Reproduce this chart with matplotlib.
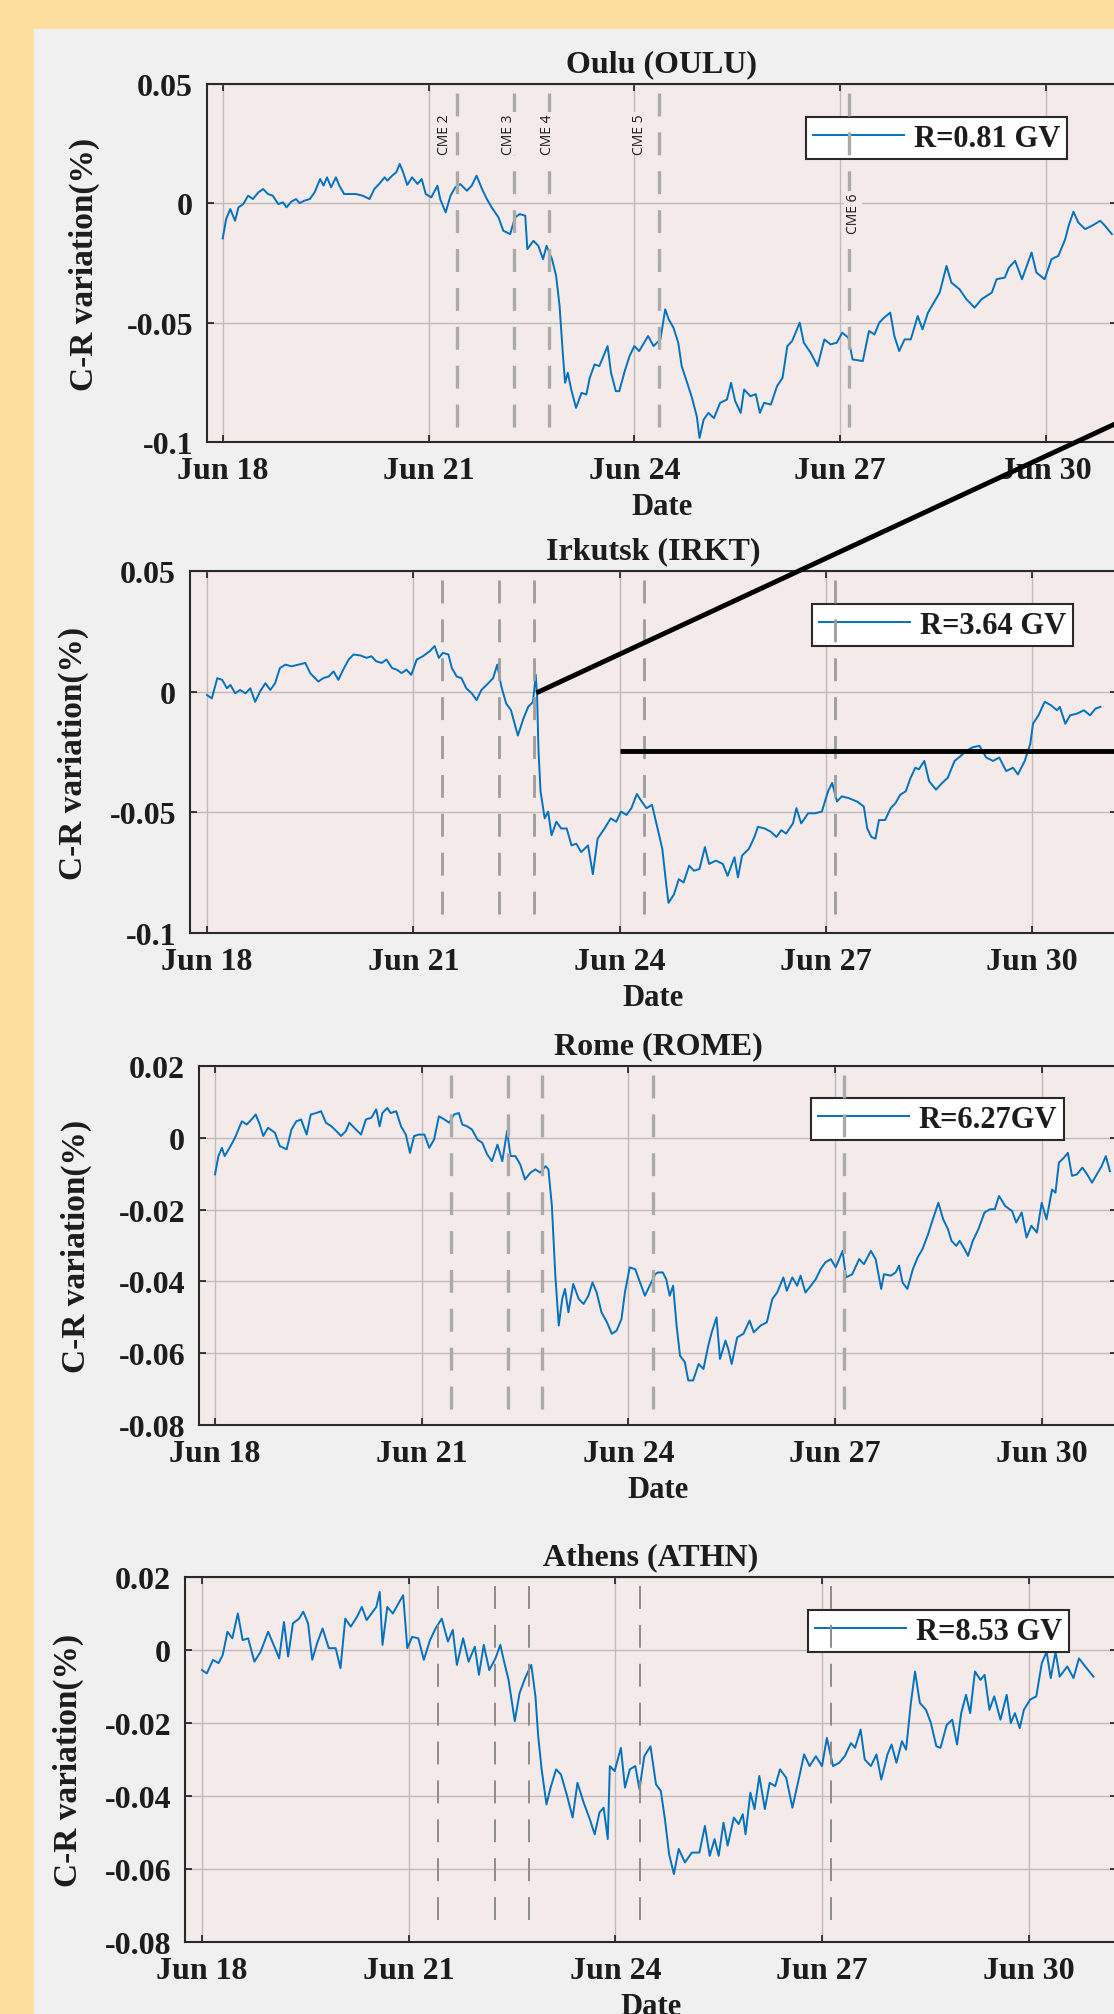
"""
Cosmic-ray (C-R) variation at four neutron monitors, 18 Jun - 1 Jul 2015,
with the CME arrival times marked.
"""
import matplotlib
matplotlib.use("Agg")
import matplotlib.dates as mdates
import matplotlib.pyplot as plt
from matplotlib.patches import Rectangle
from matplotlib.ticker import FixedLocator, FuncFormatter
import pandas as pd

W, H = 1114, 2015
BASE = pd.Timestamp("2015-06-18")

# time in days after 18 Jun 00 UT, C-R variation in %
oulu_days = [0, 0.05, 0.11, 0.18, 0.23, 0.30, 0.37, 0.44, 0.52, 0.59, 0.66, 0.73, 0.81, 0.88, 0.93,
             1.00, 1.07, 1.12, 1.19, 1.27, 1.34, 1.42, 1.47, 1.52, 1.58, 1.65, 1.70, 1.77, 1.85, 1.94,
             2.04, 2.14, 2.21, 2.28, 2.36, 2.40, 2.47, 2.53, 2.58, 2.63, 2.69, 2.76, 2.84, 2.90, 2.96,
             3.04, 3.13, 3.17, 3.25, 3.32, 3.39, 3.46, 3.56, 3.63, 3.70, 3.78, 3.85, 3.92, 4.02, 4.09,
             4.19, 4.26, 4.33, 4.41, 4.44, 4.53, 4.60, 4.67, 4.72, 4.80, 4.86, 4.91, 4.96, 4.99, 5.03,
             5.08, 5.15, 5.23, 5.30, 5.35, 5.42, 5.49, 5.57, 5.61, 5.66, 5.73, 5.78, 5.86, 5.93, 6.00,
             6.07, 6.20, 6.28, 6.38, 6.45, 6.50, 6.57, 6.64, 6.69, 6.77, 6.84, 6.91, 6.95, 7.01, 7.08,
             7.16, 7.25, 7.35, 7.41, 7.47, 7.55, 7.60, 7.69, 7.77, 7.83, 7.89, 7.99, 8.08, 8.16, 8.23,
             8.30, 8.41, 8.47, 8.57, 8.67, 8.77, 8.86, 8.95, 9.03, 9.12, 9.18, 9.33, 9.42, 9.50, 9.57,
             9.64, 9.73, 9.79, 9.86, 9.94, 10.03, 10.13, 10.20, 10.28, 10.38, 10.45, 10.55, 10.62,
             10.74, 10.84, 10.96, 11.06, 11.21, 11.28, 11.40, 11.46, 11.55, 11.65, 11.72, 11.79, 11.86,
             11.98, 12.08, 12.18, 12.28, 12.33, 12.40, 12.47, 12.57, 12.67, 12.79, 12.86, 12.96]
oulu_cr = [-0.0147, -0.0066, -0.0024, -0.0073, -0.0017, -0.0003, 0.0032, 0.0018, 0.0046, 0.0060,
           0.0039, 0.0032, -0.0003, 0.0004, -0.0017, 0.0007, 0.0018, 0.0001, 0.0011, 0.0018,
           0.0046, 0.0102, 0.0074, 0.0109, 0.0067, 0.0109, 0.0074, 0.0039, 0.0039, 0.0039,
           0.0032, 0.0018, 0.0060, 0.0081, 0.0109, 0.0095, 0.0116, 0.0130, 0.0165, 0.0130,
           0.0077, 0.0109, 0.0081, 0.0102, 0.0039, 0.0025, 0.0074, 0.0018, -0.0038, 0.0032,
           0.0067, 0.0081, 0.0053, 0.0074, 0.0116, 0.0060, 0.0018, -0.0017, -0.0059, -0.0115,
           -0.0129, -0.0059, -0.0045, -0.0052, -0.0192, -0.0157, -0.0178, -0.0234, -0.0178, -0.0234,
           -0.0304, -0.0430, -0.0640, -0.0752, -0.0710, -0.0780, -0.0857, -0.0794, -0.0801, -0.0731,
           -0.0675, -0.0682, -0.0626, -0.0598, -0.0710, -0.0787, -0.0787, -0.0703, -0.0640, -0.0598,
           -0.0619, -0.0556, -0.0598, -0.0570, -0.0444, -0.0486, -0.0521, -0.0584, -0.0682, -0.0752,
           -0.0815, -0.0892, -0.0983, -0.0906, -0.0878, -0.0900, -0.0836, -0.0822, -0.0752, -0.0829,
           -0.0878, -0.0780, -0.0808, -0.0800, -0.0878, -0.0836, -0.0843, -0.0766, -0.0731, -0.0598,
           -0.0577, -0.0500, -0.0584, -0.0626, -0.0682, -0.0570, -0.0591, -0.0584, -0.0542, -0.0563,
           -0.0654, -0.0661, -0.0535, -0.0549, -0.0500, -0.0479, -0.0458, -0.0556, -0.0619, -0.0570,
           -0.0570, -0.0472, -0.0528, -0.0458, -0.0409, -0.0374, -0.0262, -0.0332, -0.0360, -0.0402,
           -0.0437, -0.0402, -0.0374, -0.0318, -0.0311, -0.0269, -0.0241, -0.0318, -0.0262, -0.0206,
           -0.0290, -0.0318, -0.0234, -0.0220, -0.0150, -0.0094, -0.0035, -0.0080, -0.0108, -0.0094,
           -0.0073, -0.0094, -0.0129]

irkt_days = [0, 0.07, 0.15, 0.22, 0.29, 0.34, 0.41, 0.48, 0.56, 0.63, 0.70, 0.77, 0.85, 0.92, 0.99,
             1.06, 1.14, 1.23, 1.33, 1.43, 1.50, 1.57, 1.62, 1.69, 1.77, 1.84, 1.91, 1.98, 2.06, 2.13,
             2.23, 2.32, 2.39, 2.46, 2.54, 2.61, 2.69, 2.76, 2.83, 2.90, 2.97, 3.05, 3.14, 3.24, 3.31,
             3.37, 3.43, 3.51, 3.56, 3.63, 3.70, 3.77, 3.85, 3.92, 3.99, 4.09, 4.16, 4.22, 4.28, 4.35,
             4.42, 4.52, 4.60, 4.67, 4.74, 4.78, 4.80, 4.82, 4.85, 4.91, 4.96, 5.01, 5.08, 5.15, 5.23,
             5.30, 5.37, 5.44, 5.54, 5.61, 5.68, 5.78, 5.87, 5.95, 6.02, 6.10, 6.17, 6.25, 6.32, 6.39,
             6.47, 6.54, 6.62, 6.68, 6.71, 6.79, 6.86, 6.93, 7.01, 7.08, 7.16, 7.24, 7.30, 7.40, 7.50,
             7.57, 7.67, 7.72, 7.78, 7.88, 7.96, 8.01, 8.11, 8.20, 8.28, 8.35, 8.42, 8.52, 8.57, 8.64,
             8.74, 8.84, 8.94, 9.03, 9.09, 9.16, 9.23, 9.33, 9.45, 9.55, 9.60, 9.66, 9.72, 9.77, 9.86,
             9.94, 10.01, 10.08, 10.16, 10.23, 10.30, 10.35, 10.43, 10.50, 10.60, 10.69, 10.77, 10.87,
             10.96, 11.04, 11.13, 11.23, 11.33, 11.43, 11.52, 11.62, 11.72, 11.79, 11.89, 11.97, 12.01,
             12.09, 12.18, 12.27, 12.36, 12.40, 12.48, 12.55, 12.65, 12.75, 12.84, 12.92, 12.99]
irkt_cr = [-0.0014, -0.0028, 0.0056, 0.0049, 0.0014, 0.0028, -0.0007, 0.0007, -0.0007, 0.0014,
           -0.0042, 0.0000, 0.0035, 0.0007, 0.0035, 0.0098, 0.0112, 0.0105, 0.0112, 0.0119,
           0.0077, 0.0056, 0.0042, 0.0056, 0.0063, 0.0084, 0.0049, 0.0091, 0.0133, 0.0154,
           0.0150, 0.0140, 0.0147, 0.0126, 0.0119, 0.0133, 0.0098, 0.0091, 0.0077, 0.0091,
           0.0070, 0.0133, 0.0147, 0.0168, 0.0189, 0.0140, 0.0161, 0.0154, 0.0098, 0.0063,
           0.0056, 0.0014, -0.0007, -0.0035, 0.0007, 0.0035, 0.0056, 0.0112, 0.0021, -0.0049,
           -0.0077, -0.0182, -0.0112, -0.0063, -0.0042, 0.0070, -0.0021, -0.0245, -0.0413, -0.0525,
           -0.0497, -0.0595, -0.0539, -0.0567, -0.0567, -0.0637, -0.0630, -0.0665, -0.0637, -0.0756,
           -0.0609, -0.0567, -0.0525, -0.0539, -0.0497, -0.0511, -0.0483, -0.0424, -0.0455, -0.0483,
           -0.0469, -0.0553, -0.0651, -0.0805, -0.0875, -0.0840, -0.0777, -0.0791, -0.0721, -0.0742,
           -0.0735, -0.0644, -0.0714, -0.0700, -0.0714, -0.0763, -0.0686, -0.0770, -0.0679, -0.0651,
           -0.0602, -0.0560, -0.0567, -0.0581, -0.0602, -0.0574, -0.0588, -0.0546, -0.0483, -0.0546,
           -0.0504, -0.0504, -0.0497, -0.0413, -0.0378, -0.0455, -0.0434, -0.0441, -0.0455, -0.0476,
           -0.0567, -0.0602, -0.0609, -0.0532, -0.0532, -0.0483, -0.0462, -0.0427, -0.0413, -0.0357,
           -0.0315, -0.0322, -0.0287, -0.0371, -0.0406, -0.0378, -0.0357, -0.0287, -0.0266, -0.0245,
           -0.0231, -0.0224, -0.0273, -0.0287, -0.0273, -0.0329, -0.0315, -0.0343, -0.0287, -0.0217,
           -0.0133, -0.0098, -0.0042, -0.0056, -0.0077, -0.0063, -0.0133, -0.0098, -0.0091, -0.0077,
           -0.0098, -0.0070, -0.0063]

rome_days = [0, 0.05, 0.10, 0.14, 0.22, 0.29, 0.39, 0.46, 0.53, 0.59, 0.65, 0.70, 0.77, 0.87, 0.94,
             1.04, 1.11, 1.18, 1.25, 1.33, 1.39, 1.47, 1.54, 1.61, 1.69, 1.76, 1.83, 1.90, 1.95, 2.02,
             2.12, 2.19, 2.27, 2.34, 2.39, 2.43, 2.50, 2.55, 2.63, 2.70, 2.77, 2.83, 2.89, 2.96, 3.04,
             3.11, 3.18, 3.25, 3.33, 3.40, 3.47, 3.54, 3.59, 3.66, 3.73, 3.81, 3.88, 3.95, 4.02, 4.10,
             4.17, 4.24, 4.29, 4.36, 4.43, 4.50, 4.58, 4.65, 4.72, 4.80, 4.84, 4.89, 4.94, 4.99, 5.04,
             5.08, 5.13, 5.20, 5.28, 5.35, 5.42, 5.48, 5.54, 5.61, 5.69, 5.76, 5.83, 5.90, 5.95, 6.02,
             6.10, 6.17, 6.24, 6.31, 6.39, 6.43, 6.50, 6.55, 6.60, 6.65, 6.70, 6.75, 6.82, 6.87, 6.94,
             7.02, 7.09, 7.16, 7.21, 7.28, 7.33, 7.41, 7.45, 7.50, 7.58, 7.67, 7.76, 7.82, 7.92, 8.01,
             8.09, 8.16, 8.25, 8.30, 8.38, 8.45, 8.50, 8.57, 8.65, 8.72, 8.79, 8.86, 8.94, 9.01, 9.11,
             9.16, 9.25, 9.35, 9.42, 9.52, 9.59, 9.67, 9.71, 9.81, 9.88, 9.93, 9.98, 10.05, 10.13,
             10.20, 10.27, 10.35, 10.42, 10.50, 10.57, 10.64, 10.69, 10.76, 10.81, 10.88, 10.93, 11.00,
             11.08, 11.17, 11.25, 11.32, 11.38, 11.47, 11.57, 11.63, 11.71, 11.78, 11.85, 11.93, 12.00,
             12.07, 12.15, 12.20, 12.25, 12.32, 12.38, 12.44, 12.51, 12.59, 12.66, 12.73, 12.80, 12.87,
             12.93, 12.99]
rome_cr = [-0.0102, -0.0051, -0.0028, -0.0051, -0.0025, 0.0000, 0.0046, 0.0037, 0.0051, 0.0065,
           0.0037, 0.0005, 0.0028, 0.0014, -0.0023, -0.0032, 0.0023, 0.0046, 0.0051, 0.0009,
           0.0065, 0.0069, 0.0074, 0.0042, 0.0032, 0.0019, 0.0005, 0.0019, 0.0042, 0.0028,
           0.0009, 0.0051, 0.0056, 0.0079, 0.0032, 0.0069, 0.0083, 0.0069, 0.0074, 0.0032,
           0.0009, -0.0042, 0.0005, 0.0009, 0.0009, -0.0028, -0.0005, 0.0060, 0.0051, 0.0042,
           0.0065, 0.0069, 0.0037, 0.0032, 0.0023, -0.0005, -0.0014, -0.0046, -0.0065, -0.0019,
           -0.0065, 0.0019, -0.0051, -0.0051, -0.0074, -0.0116, -0.0097, -0.0088, -0.0097, -0.0079,
           -0.0088, -0.0190, -0.0384, -0.0523, -0.0449, -0.0421, -0.0486, -0.0407, -0.0449, -0.0463,
           -0.0440, -0.0403, -0.0431, -0.0486, -0.0514, -0.0546, -0.0537, -0.0505, -0.0431, -0.0361,
           -0.0366, -0.0403, -0.0440, -0.0412, -0.0380, -0.0375, -0.0375, -0.0394, -0.0440, -0.0412,
           -0.0523, -0.0607, -0.0625, -0.0676, -0.0676, -0.0630, -0.0644, -0.0579, -0.0542, -0.0500,
           -0.0616, -0.0565, -0.0588, -0.0630, -0.0556, -0.0546, -0.0509, -0.0542, -0.0523, -0.0514,
           -0.0449, -0.0431, -0.0389, -0.0426, -0.0389, -0.0412, -0.0384, -0.0431, -0.0412, -0.0394,
           -0.0366, -0.0347, -0.0338, -0.0361, -0.0315, -0.0389, -0.0380, -0.0338, -0.0352, -0.0315,
           -0.0338, -0.0421, -0.0380, -0.0384, -0.0375, -0.0356, -0.0403, -0.0421, -0.0366, -0.0333,
           -0.0310, -0.0269, -0.0227, -0.0181, -0.0227, -0.0255, -0.0287, -0.0301, -0.0287, -0.0310,
           -0.0329, -0.0287, -0.0255, -0.0208, -0.0199, -0.0199, -0.0162, -0.0190, -0.0204, -0.0236,
           -0.0208, -0.0278, -0.0245, -0.0264, -0.0181, -0.0227, -0.0144, -0.0153, -0.0069, -0.0056,
           -0.0042, -0.0106, -0.0102, -0.0083, -0.0102, -0.0125, -0.0102, -0.0079, -0.0051, -0.0093]

athn_days = [0, 0.07, 0.16, 0.24, 0.30, 0.37, 0.44, 0.52, 0.59, 0.67, 0.76, 0.85, 0.96, 1.06, 1.12,
             1.19, 1.25, 1.32, 1.41, 1.47, 1.54, 1.60, 1.67, 1.75, 1.84, 1.94, 2.01, 2.08, 2.16, 2.25,
             2.32, 2.39, 2.46, 2.53, 2.58, 2.62, 2.69, 2.77, 2.85, 2.92, 2.98, 3.05, 3.14, 3.22, 3.31,
             3.39, 3.48, 3.57, 3.64, 3.70, 3.79, 3.87, 3.96, 4.02, 4.09, 4.17, 4.26, 4.33, 4.39, 4.45,
             4.54, 4.61, 4.69, 4.78, 4.84, 4.88, 4.93, 5.00, 5.06, 5.14, 5.21, 5.30, 5.38, 5.45, 5.54,
             5.63, 5.70, 5.77, 5.83, 5.89, 5.92, 5.99, 6.08, 6.14, 6.21, 6.29, 6.35, 6.42, 6.51, 6.59,
             6.66, 6.72, 6.78, 6.85, 6.92, 7.01, 7.11, 7.22, 7.30, 7.37, 7.44, 7.50, 7.57, 7.63, 7.72,
             7.79, 7.85, 7.89, 7.96, 8.02, 8.09, 8.17, 8.24, 8.32, 8.39, 8.48, 8.57, 8.65, 8.74, 8.82,
             8.91, 9.00, 9.07, 9.16, 9.25, 9.33, 9.42, 9.48, 9.56, 9.62, 9.71, 9.79, 9.86, 9.95, 10.01,
             10.08, 10.16, 10.22, 10.29, 10.35, 10.42, 10.51, 10.58, 10.66, 10.72, 10.81, 10.89, 10.96,
             11.02, 11.09, 11.15, 11.22, 11.30, 11.36, 11.43, 11.50, 11.59, 11.68, 11.74, 11.80, 11.87,
             11.93, 12.02, 12.11, 12.19, 12.26, 12.32, 12.39, 12.45, 12.56, 12.65, 12.73, 12.82, 12.94]
athn_cr = [-0.0055, -0.0064, -0.0027, -0.0036, -0.0014, 0.0050, 0.0032, 0.0100, 0.0027, 0.0032,
           -0.0032, -0.0005, 0.0050, 0.0005, -0.0023, 0.0077, -0.0018, 0.0073, 0.0086, 0.0105,
           0.0073, -0.0027, 0.0018, 0.0059, 0.0005, 0.0005, -0.0050, 0.0086, 0.0064, 0.0091,
           0.0118, 0.0082, 0.0100, 0.0118, 0.0159, 0.0014, 0.0118, 0.0100, 0.0127, 0.0150,
           0.0005, 0.0036, 0.0032, -0.0027, 0.0027, 0.0059, 0.0086, 0.0023, 0.0055, -0.0041,
           0.0032, -0.0032, 0.0009, -0.0068, 0.0014, -0.0055, -0.0023, 0.0014, -0.0036, -0.0082,
           -0.0195, -0.0118, -0.0077, -0.0041, -0.0127, -0.0236, -0.0327, -0.0423, -0.0377, -0.0327,
           -0.0341, -0.0400, -0.0459, -0.0364, -0.0418, -0.0464, -0.0505, -0.0445, -0.0432, -0.0518,
           -0.0318, -0.0332, -0.0268, -0.0377, -0.0327, -0.0318, -0.0382, -0.0291, -0.0264, -0.0368,
           -0.0386, -0.0464, -0.0559, -0.0614, -0.0545, -0.0582, -0.0555, -0.0555, -0.0482, -0.0564,
           -0.0518, -0.0564, -0.0473, -0.0536, -0.0459, -0.0477, -0.0450, -0.0505, -0.0391, -0.0436,
           -0.0345, -0.0436, -0.0364, -0.0373, -0.0327, -0.0350, -0.0432, -0.0364, -0.0286, -0.0318,
           -0.0291, -0.0318, -0.0241, -0.0318, -0.0309, -0.0291, -0.0255, -0.0268, -0.0218, -0.0300,
           -0.0318, -0.0286, -0.0355, -0.0286, -0.0259, -0.0309, -0.0250, -0.0273, -0.0145, -0.0059,
           -0.0145, -0.0164, -0.0200, -0.0264, -0.0268, -0.0205, -0.0191, -0.0259, -0.0173, -0.0123,
           -0.0173, -0.0059, -0.0082, -0.0068, -0.0164, -0.0127, -0.0191, -0.0123, -0.0200, -0.0173,
           -0.0214, -0.0164, -0.0136, -0.0127, -0.0036, -0.0005, -0.0077, -0.0005, -0.0073, -0.0045,
           -0.0077, -0.0023, -0.0045, -0.0073]

# CME arrival markers
cme_days = [3.42, 4.25, 4.75, 6.36, 9.13]
cme_names = ["CME 2", "CME 3", "CME 4", "CME 5", "CME 6"]
cme_label_days = [3.23, 4.17, 4.74, 6.07, 9.19]
cme_label_y = [0.0207, 0.0207, 0.0207, 0.0207, -0.0125]

titles = ["Oulu (OULU)", "Irkutsk (IRKT)", "Rome (ROME)", "Athens (ATHN)"]
rigidities = ["R=0.81 GV", "R=3.64 GV", "R=6.27GV", "R=8.53 GV"]
series = [(oulu_days, oulu_cr), (irkt_days, irkt_cr), (rome_days, rome_cr), (athn_days, athn_cr)]
ylims = [(-0.1, 0.05), (-0.1, 0.05), (-0.08, 0.02), (-0.08, 0.02)]
yticks = [[-0.1, -0.05, 0, 0.05], [-0.1, -0.05, 0, 0.05],
          [-0.08, -0.06, -0.04, -0.02, 0, 0.02], [-0.08, -0.06, -0.04, -0.02, 0, 0.02]]
tick_days = [0, 3, 6, 9, 12]

# panel geometry in pixels: left, top, bottom, x of Jun 18, x of Jun 30, right edge of y label
panel_px = [
    (207, 85, 443, 222.7, 1046.0, 100),
    (190, 572, 934, 207.0, 1032.3, 89),
    (199, 1067, 1426, 215.0, 1041.7, 92),
    (185, 1578, 1943, 202.0, 1028.7, 84),
]
AX_RIGHT = 1117
legend_px = [(806, 118), (812, 605), (811, 1099), (808, 1611)]
dash_width = [2.4, 2.0, 2.4, 1.4]
dash_color = ["#aaaaaa", "#9c9c9c", "#aaaaaa", "#8c8c8c"]

YELLOW = "#fdde9f"
PANEL_BG = "#f0f0f0"
AX_BG = "#f5eaea"
GRID = "#c2baba"
INK = "#1c1c1c"
LINE_BLUE = "#0072bd"

plt.rcParams["font.family"] = ["Liberation Serif", "DejaVu Serif"]
plt.rcParams["font.weight"] = "bold"
plt.rcParams["axes.unicode_minus"] = False
plt.rcParams["lines.scale_dashes"] = False


def to_time(days):
    return BASE + pd.to_timedelta(days, unit="D")


def px_rect(left, top, right, bottom):
    return [left / W, 1 - bottom / H, (right - left) / W, (bottom - top) / H]


fig = plt.figure(figsize=(W / 100, H / 100), dpi=100, facecolor=YELLOW)
fig.add_artist(Rectangle((34 / W, 0), 1 - 34 / W, 1 - 30 / H, transform=fig.transFigure,
                         facecolor=PANEL_BG, edgecolor="none", zorder=-10))

axes = []
for i, (left, top, bottom, x18, x30, ylab_px) in enumerate(panel_px):
    ax = fig.add_axes(px_rect(left, top, AX_RIGHT, bottom))
    ax.set_facecolor(AX_BG)
    px_per_day = (x30 - x18) / 12
    ax.set_xlim(to_time((left - x18) / px_per_day), to_time((AX_RIGHT - x18) / px_per_day))
    ax.set_ylim(*ylims[i])

    days, cr = series[i]
    line, = ax.plot(to_time(days), cr, color=LINE_BLUE, linewidth=1.4, zorder=3)

    # CME arrival times
    for d in cme_days:
        ax.plot([to_time(d), to_time(d)], [0.975, 0.02], transform=ax.get_xaxis_transform(),
                color=dash_color[i], linewidth=dash_width[i], dashes=(16.5, 11.5), zorder=6)

    ax.set_xticks(to_time(tick_days))
    ax.xaxis.set_major_formatter(mdates.DateFormatter("%b %d"))
    ax.yaxis.set_major_locator(FixedLocator(yticks[i]))
    ax.yaxis.set_major_formatter(FuncFormatter(lambda v, _: f"{round(v, 4):g}"))
    ax.tick_params(direction="in", length=5, width=1.2, top=True, right=True,
                   labelsize=23, colors=INK, pad=10)
    ax.grid(True, color=GRID, linewidth=1.0)
    for spine in ax.spines.values():
        spine.set_linewidth(1.5)
        spine.set_edgecolor("#2a2a2a")

    ax.set_title(titles[i], fontsize=23, fontweight="bold", color=INK, pad=9)
    ax.set_xlabel("Date", fontsize=22, fontweight="bold", color=INK, labelpad=5)
    ax.set_ylabel("C-R variation(%)", fontsize=24, fontweight="bold", color=INK)
    ax.yaxis.set_label_coords((ylab_px - left) / (AX_RIGHT - left), 0.5)

    lx, ly = legend_px[i]
    leg = ax.legend([line], [rigidities[i]], loc="upper left",
                    bbox_to_anchor=(lx / W, 1 - ly / H), bbox_transform=fig.transFigure,
                    fancybox=False, framealpha=1, facecolor="white", edgecolor="#2a2a2a",
                    borderpad=0.22, borderaxespad=0, handlelength=3.0, handletextpad=0.3,
                    prop={"family": ["Liberation Serif"], "weight": "bold", "size": 22})
    leg.get_frame().set_linewidth(1.5)
    for txt in leg.get_texts():
        txt.set_color(INK)
    axes.append(ax)

# CME names on the Oulu panel
for name, d, y in zip(cme_names, cme_label_days, cme_label_y):
    axes[0].text(to_time(d), y, name, rotation=90, ha="center", va="bottom",
                 fontsize=10, family=["Open Sans", "DejaVu Sans"], fontweight="normal",
                 color=INK, zorder=7,
                 bbox=dict(facecolor=AX_BG, edgecolor="none", pad=1))

# callout lines from the Irkutsk drop
ax2 = axes[1]
ax2.plot([to_time(4.79), to_time(13.6)], [-0.0005, 0.1162], color="black",
         linewidth=3.5, clip_on=False, zorder=8, solid_capstyle="butt")
ax2.plot([to_time(6.0), to_time(14.0)], [-0.0245, -0.0245], color="black",
         linewidth=3.5, clip_on=False, zorder=8, solid_capstyle="butt")

fig.savefig("out.png", dpi=100, facecolor=YELLOW)
